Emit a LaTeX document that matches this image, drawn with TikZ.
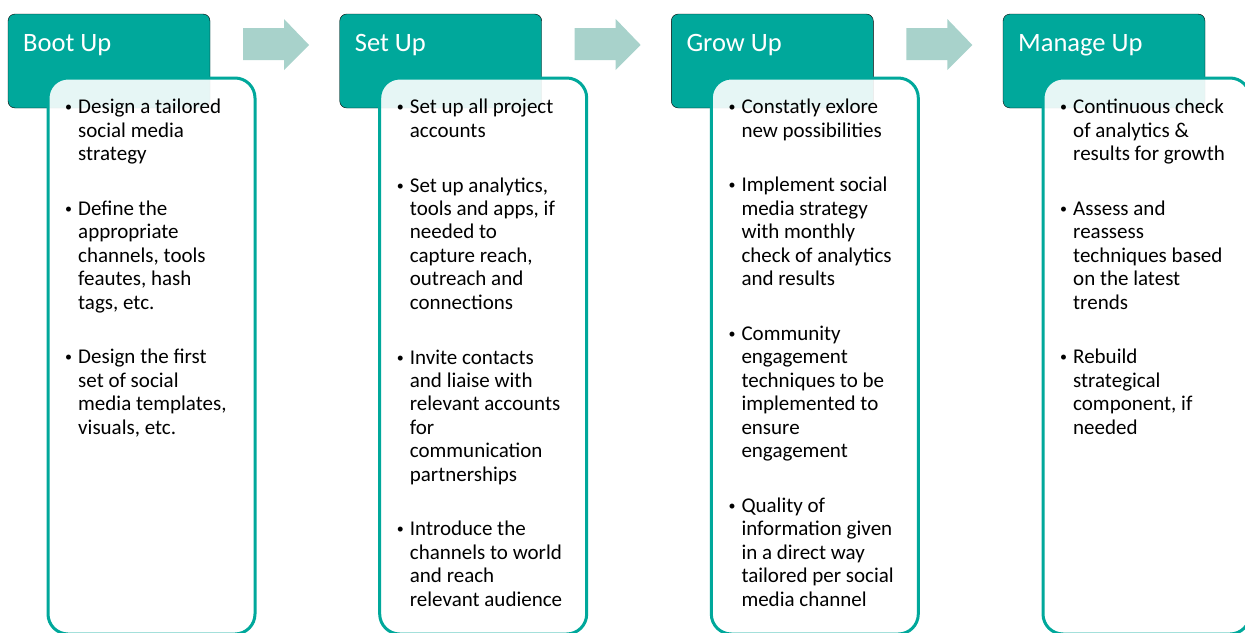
\documentclass[tikz,border=0pt]{standalone}
\usepackage{fontspec}
\setmainfont{Carlito}
\definecolor{tealbox}{RGB}{0,168,155}
\definecolor{tealarrow}{RGB}{168,210,203}
\def\bul{\llap{\raisebox{2pt}{\fontsize{14}{14}\selectfont\textbullet}\hspace{6pt}}}
\tikzset{
	head/.style={fill=tealbox, rounded corners=7pt},
	card/.style={draw=tealbox, line width=3pt, fill=white, fill opacity=0.9, rounded corners=20pt},
	flowarrow/.style={fill=tealarrow},
	headtext/.style={anchor=base west, inner sep=0, text=white, font=\fontsize{26.5}{31}\selectfont},
	itemtext/.style={anchor=base west, inner sep=0, align=left, font=\fontsize{21}{23.4}\selectfont}
}
\begin{document}
\begin{tikzpicture}[x=1pt, y=-1pt]
		%%%%% START %%%%%
		
		\useasboundingbox (0, 0) rectangle (1245, 632);
		\clip (0, 0) rectangle (1245, 632);
		
		% boot up
		\draw[head] (8, 14) rectangle (210, 108);
		\draw[card] (48, 78) rectangle (255, 634);
		\node[headtext] (bootup) at (23, 51) {Boot Up};
		\node[itemtext] (boota) at (78, 160.5) {\bul Design a tailored\\social media\\strategy};
		\node[itemtext] (bootb) at (78, 309) {\bul Define the\\appropriate\\channels, tools\\feautes, hash\\tags, etc.};
		\node[itemtext] (bootc) at (78, 434) {\bul Design the first\\set of social\\media templates,\\visuals, etc.};
		
		\fill[flowarrow] (243, 28) -- (284, 28) -- (284, 19) -- (309, 45) -- (284, 70) -- (284, 60) -- (243, 60) -- cycle;
		
		% set up
		\draw[head] (339.7, 14) rectangle (541.7, 108);
		\draw[card] (379.7, 78) rectangle (586.7, 634);
		\node[headtext] (setup) at (354.7, 51) {Set Up};
		\node[itemtext] (seta) at (409.7, 137) {\bul Set up all project\\accounts};
		\node[itemtext] (setb) at (409.7, 309) {\bul Set up analytics,\\tools and apps, if\\needed to\\capture reach,\\outreach and\\connections};
		\node[itemtext] (setc) at (409.7, 481) {\bul Invite contacts\\and liaise with\\relevant accounts\\for\\communication\\partnerships};
		\node[itemtext] (setd) at (409.7, 606) {\bul Introduce the\\channels to world\\and reach\\relevant audience};
		
		\fill[flowarrow] (574.7, 28) -- (615.7, 28) -- (615.7, 19) -- (640.7, 45) -- (615.7, 70) -- (615.7, 60) -- (574.7, 60) -- cycle;
		
		% grow up
		\draw[head] (671.3, 14) rectangle (873.3, 108);
		\draw[card] (711.3, 78) rectangle (918.3, 634);
		\node[headtext] (growup) at (686.3, 51) {Grow Up};
		\node[itemtext] (growa) at (741.3, 137) {\bul Constatly exlore\\new possibilities};
		\node[itemtext] (growb) at (741.3, 285.5) {\bul Implement social\\media strategy\\with monthly\\check of analytics\\and results};
		\node[itemtext] (growc) at (741.3, 457.5) {\bul Community\\engagement\\techniques to be\\implemented to\\ensure\\engagement};
		\node[itemtext] (growd) at (741.3, 606) {\bul Quality of\\information given\\in a direct way\\tailored per social\\media channel};
		
		\fill[flowarrow] (906.3, 28) -- (947.3, 28) -- (947.3, 19) -- (972.3, 45) -- (947.3, 70) -- (947.3, 60) -- (906.3, 60) -- cycle;
		
		% manage up
		\draw[head] (1003, 14) rectangle (1205, 108);
		\draw[card] (1043, 78) rectangle (1250, 634);
		\node[headtext] (manageup) at (1018, 51) {Manage Up};
		\node[itemtext] (managea) at (1073, 160.5) {\bul Continuous check\\of analytics \&\\results for growth};
		\node[itemtext] (manageb) at (1073, 309) {\bul Assess and\\reassess\\techniques based\\on the latest\\trends};
		\node[itemtext] (managec) at (1073, 434) {\bul Rebuild\\strategical\\component, if\\needed};
		
		%%%%% END %%%%%
\end{tikzpicture}
\end{document}
